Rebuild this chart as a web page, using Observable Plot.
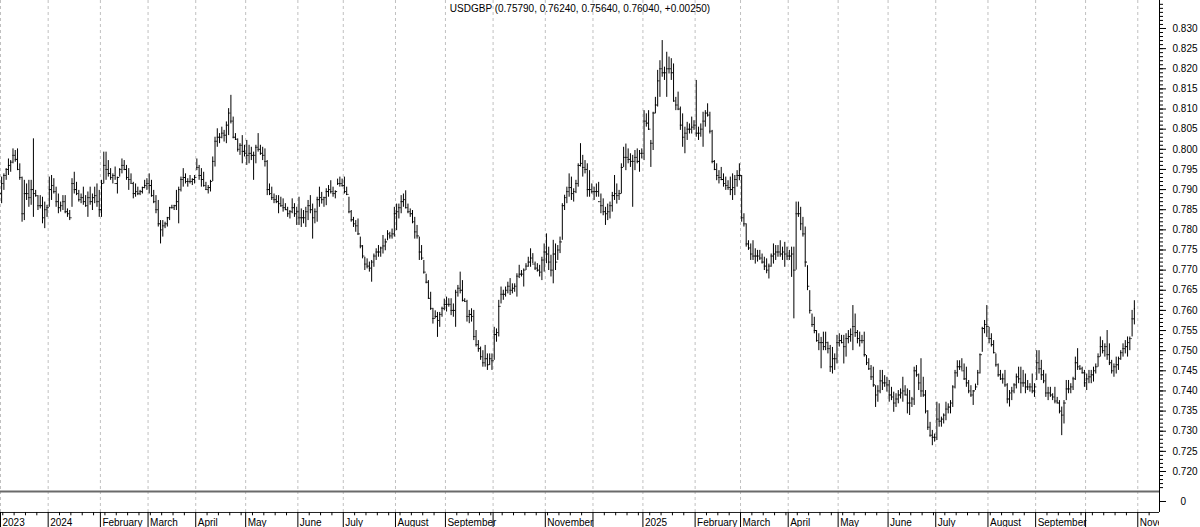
<!DOCTYPE html>
<html><head><meta charset="utf-8">
<script src="https://cdn.jsdelivr.net/npm/d3@7"></script>
<script src="https://cdn.jsdelivr.net/npm/@observablehq/plot@0.6"></script>
<style>
html,body{margin:0;padding:0;background:#fff;}
#chart{width:1200px;height:527px;overflow:hidden;}
#chart svg{display:block;}
</style></head><body><div id="chart"></div>
<script>
// ---- data (daily bars, weekdays from 2023-12-01) ----
const symbol = "USDGBP";
const lastQuote = ["0.75790", "0.76240", "0.75640", "0.76040", "+0.00250"];
const firstDay = [2023, 11, 1];
const firstOpen = 0.7890;

const high = [
// Dec 2023
0.7931,0.7939,0.7952,0.7976,0.7972,0.8001,0.7997,0.8001,0.7964,0.7931,0.7923,0.7914,0.7923,0.7923,0.8026,0.7898,0.7885,0.7885,0.7881,0.7869,0.7861,
// Jan 2024
0.7931,0.7935,0.7927,0.7906,0.7889,0.7869,0.7885,0.7885,0.7852,0.7848,0.7927,0.7943,0.7918,0.7898,0.7889,0.7906,0.7885,0.7894,0.7906,0.7889,0.7906,0.7914,0.7898,
// Feb
0.7923,0.7993,0.7993,0.7972,0.7952,0.7939,0.7956,0.7931,0.7952,0.7976,0.7972,0.7960,0.7952,0.7939,0.7918,0.7914,0.7906,0.7898,0.7906,0.7923,0.7927,
// Mar
0.7939,0.7923,0.7898,0.7885,0.7873,0.7823,0.7823,0.7819,0.7831,0.7856,0.7861,0.7861,0.7898,0.7906,0.7931,0.7952,0.7939,0.7927,0.7935,0.7927,0.7935,
// Apr
0.7976,0.7960,0.7952,0.7943,0.7918,0.7910,0.7923,0.7981,0.8030,0.8051,0.8039,0.8055,0.8047,0.8068,0.8101,0.8134,0.8080,0.8039,0.8026,0.8014,0.8034,0.8010,
// May
0.8022,0.8010,0.8005,0.7993,0.8010,0.8039,0.8010,0.8005,0.8001,0.7972,0.7914,0.7906,0.7889,0.7885,0.7885,0.7881,0.7877,0.7865,0.7856,0.7848,0.7877,0.7865,0.7856,
// Jun
0.7881,0.7852,0.7848,0.7856,0.7873,0.7885,0.7864,0.7852,0.7881,0.7906,0.7893,0.7881,0.7902,0.7910,0.7922,0.7906,0.7897,0.7926,0.7931,0.7926,
// Jul
0.7931,0.7906,0.7881,0.7848,0.7831,0.7823,0.7827,0.7782,0.7761,0.7732,0.7728,0.7720,0.7724,0.7740,0.7753,0.7761,0.7757,0.7786,0.7777,0.7798,0.7794,0.7802,0.7856,
// Aug
0.7864,0.7864,0.7885,0.7889,0.7897,0.7864,0.7852,0.7848,0.7831,0.7811,0.7782,0.7761,0.7724,0.7690,0.7674,0.7645,0.7605,0.7599,0.7595,0.7595,0.7608,0.7628,
// Sep
0.7633,0.7629,0.7629,0.7616,0.7650,0.7662,0.7695,0.7674,0.7629,0.7625,0.7600,0.7604,0.7600,0.7550,0.7525,0.7509,0.7500,0.7513,0.7492,0.7492,0.7492,
// Oct
0.7558,0.7554,0.7625,0.7658,0.7650,0.7658,0.7670,0.7679,0.7666,0.7666,0.7691,0.7712,0.7699,0.7703,0.7716,0.7732,0.7753,0.7741,0.7720,0.7716,0.7712,0.7732,0.7765,
// Nov
0.7790,0.7757,0.7737,0.7774,0.7765,0.7761,0.7782,0.7865,0.7886,0.7906,0.7939,0.7931,0.7902,0.7923,0.7964,0.8014,0.7985,0.7972,0.7964,0.7947,0.7914,
// Dec
0.7906,0.7914,0.7918,0.7889,0.7877,0.7856,0.7864,0.7869,0.7893,0.7935,0.7914,0.7898,0.7964,0.8005,0.8013,0.8001,0.7989,0.7985,0.7997,0.8001,0.7997,0.8001,
// Jan 2025
0.8096,0.8088,0.8096,0.8022,0.8092,0.8129,0.8196,0.8220,0.8270,0.8204,0.8241,0.8229,0.8225,0.8212,0.8129,0.8142,0.8105,0.8088,0.8055,0.8067,0.8063,0.8080,0.8071,
// Feb
0.8171,0.8055,0.8063,0.8092,0.8096,0.8113,0.8092,0.8047,0.7972,0.7964,0.7947,0.7955,0.7939,0.7931,0.7922,0.7931,0.7939,0.7935,0.7947,0.7964,
// Mar
0.7935,0.7840,0.7815,0.7773,0.7765,0.7773,0.7753,0.7749,0.7749,0.7740,0.7732,0.7728,0.7715,0.7740,0.7765,0.7761,0.7761,0.7773,0.7757,0.7769,0.7757,
// Apr
0.7749,0.7757,0.7757,0.7869,0.7869,0.7856,0.7831,0.7807,0.7711,0.7649,0.7591,0.7583,0.7550,0.7542,0.7533,0.7546,0.7546,0.7521,0.7513,0.7508,0.7492,0.7538,
// May
0.7542,0.7538,0.7538,0.7542,0.7550,0.7554,0.7612,0.7591,0.7550,0.7546,0.7538,0.7546,0.7488,0.7480,0.7463,0.7459,0.7413,0.7413,0.7451,0.7451,0.7438,0.7434,
// Jun
0.7426,0.7409,0.7397,0.7393,0.7401,0.7405,0.7434,0.7413,0.7405,0.7401,0.7384,0.7459,0.7463,0.7442,0.7480,0.7434,0.7401,0.7351,0.7322,0.7302,0.7293,
// Jul
0.7372,0.7368,0.7335,0.7343,0.7372,0.7368,0.7376,0.7413,0.7451,0.7475,0.7475,0.7480,0.7467,0.7459,0.7426,0.7413,0.7401,0.7417,0.7451,0.7492,0.7558,0.7575,0.7612,
// Aug
0.7558,0.7542,0.7525,0.7492,0.7467,0.7451,0.7442,0.7451,0.7418,0.7401,0.7409,0.7418,0.7442,0.7459,0.7459,0.7451,0.7442,0.7426,0.7418,0.7442,0.7418,
// Sep
0.7500,0.7500,0.7476,0.7451,0.7442,0.7409,0.7409,0.7393,0.7409,0.7384,0.7376,0.7360,0.7376,0.7426,0.7426,0.7418,0.7434,0.7484,0.7505,0.7463,0.7459,0.7451,
// Oct
0.7442,0.7451,0.7451,0.7459,0.7467,0.7492,0.7534,0.7525,0.7517,0.7550,0.7517,0.7476,0.7467,0.7484,0.7484,0.7500,0.7517,0.7525,0.7534,0.7534,0.7600,0.7624
];

const low = [
0.7865,0.7898,0.7923,0.7935,0.7943,0.7964,0.7968,0.7947,0.7923,0.7819,0.7823,0.7873,0.7856,0.7861,0.7831,0.7881,0.7848,0.7852,0.7815,0.7803,0.7831,
0.7856,0.7873,0.7889,0.7856,0.7840,0.7844,0.7848,0.7840,0.7831,0.7823,0.7856,0.7889,0.7885,0.7869,0.7865,0.7861,0.7856,0.7831,0.7861,0.7848,0.7865,0.7856,0.7831,
0.7831,0.7914,0.7923,0.7931,0.7923,0.7914,0.7923,0.7889,0.7931,0.7939,0.7947,0.7923,0.7898,0.7914,0.7877,0.7881,0.7885,0.7885,0.7889,0.7902,0.7898,
0.7889,0.7881,0.7865,0.7840,0.7807,0.7765,0.7782,0.7803,0.7807,0.7823,0.7852,0.7848,0.7848,0.7815,0.7894,0.7906,0.7914,0.7906,0.7914,0.7910,0.7914,
0.7947,0.7923,0.7906,0.7906,0.7898,0.7889,0.7894,0.7920,0.7956,0.8005,0.8014,0.8026,0.8018,0.8014,0.8034,0.8063,0.8026,0.8022,0.7993,0.7985,0.7964,0.7981,
0.7960,0.7964,0.7972,0.7923,0.7964,0.7993,0.7985,0.7972,0.7956,0.7885,0.7885,0.7873,0.7865,0.7865,0.7840,0.7856,0.7844,0.7848,0.7831,0.7827,0.7840,0.7831,0.7811,
0.7811,0.7806,0.7815,0.7806,0.7823,0.7840,0.7777,0.7815,0.7819,0.7856,0.7864,0.7856,0.7860,0.7881,0.7889,0.7881,0.7877,0.7910,0.7906,0.7906,
0.7889,0.7885,0.7840,0.7819,0.7806,0.7794,0.7786,0.7753,0.7728,0.7699,0.7703,0.7695,0.7670,0.7707,0.7724,0.7732,0.7732,0.7740,0.7748,0.7773,0.7777,0.7777,0.7782,
0.7798,0.7827,0.7840,0.7856,0.7852,0.7840,0.7831,0.7815,0.7777,0.7777,0.7724,0.7724,0.7690,0.7666,0.7628,0.7600,0.7566,0.7579,0.7533,0.7558,0.7583,0.7599,
0.7596,0.7608,0.7587,0.7583,0.7558,0.7633,0.7641,0.7621,0.7621,0.7571,0.7567,0.7571,0.7525,0.7509,0.7496,0.7476,0.7459,0.7459,0.7451,0.7463,0.7451,
0.7476,0.7521,0.7534,0.7616,0.7625,0.7633,0.7641,0.7637,0.7641,0.7645,0.7633,0.7679,0.7683,0.7658,0.7699,0.7707,0.7707,0.7716,0.7699,0.7695,0.7683,0.7674,0.7695,
0.7716,0.7699,0.7683,0.7666,0.7699,0.7724,0.7741,0.7774,0.7848,0.7865,0.7881,0.7873,0.7869,0.7890,0.7906,0.7956,0.7931,0.7939,0.7881,0.7881,0.7889,
0.7873,0.7881,0.7881,0.7840,0.7835,0.7811,0.7823,0.7827,0.7844,0.7873,0.7864,0.7873,0.7889,0.7955,0.7947,0.7964,0.7955,0.7856,0.7947,0.7964,0.7943,0.7976,
0.7972,0.8055,0.8047,0.7955,0.7997,0.8088,0.8105,0.8129,0.8179,0.8171,0.8129,0.8187,0.8171,0.8117,0.8096,0.8096,0.8047,0.8005,0.7989,0.8022,0.8038,0.8038,0.8047,
0.8030,0.8022,0.8030,0.8005,0.8055,0.8080,0.8038,0.7964,0.7947,0.7922,0.7914,0.7922,0.7906,0.7898,0.7898,0.7885,0.7873,0.7885,0.7906,0.7922,
0.7819,0.7807,0.7757,0.7749,0.7724,0.7724,0.7715,0.7720,0.7724,0.7715,0.7699,0.7691,0.7678,0.7707,0.7715,0.7724,0.7732,0.7732,0.7724,0.7707,0.7724,
0.7724,0.7682,0.7579,0.7700,0.7831,0.7798,0.7782,0.7707,0.7649,0.7591,0.7558,0.7542,0.7521,0.7500,0.7455,0.7500,0.7500,0.7492,0.7446,0.7442,0.7451,0.7467,
0.7509,0.7517,0.7467,0.7484,0.7517,0.7521,0.7500,0.7533,0.7517,0.7509,0.7517,0.7484,0.7463,0.7451,0.7426,0.7409,0.7359,0.7372,0.7393,0.7401,0.7409,0.7397,
0.7372,0.7376,0.7347,0.7359,0.7368,0.7380,0.7372,0.7388,0.7343,0.7339,0.7359,0.7364,0.7434,0.7401,0.7384,0.7384,0.7343,0.7302,0.7285,0.7264,0.7273,
0.7277,0.7310,0.7310,0.7318,0.7326,0.7343,0.7343,0.7359,0.7405,0.7434,0.7451,0.7451,0.7426,0.7409,0.7393,0.7384,0.7364,0.7401,0.7413,0.7442,0.7496,0.7542,0.7533,
0.7517,0.7509,0.7492,0.7459,0.7434,0.7426,0.7417,0.7409,0.7368,0.7360,0.7376,0.7393,0.7405,0.7418,0.7393,0.7409,0.7393,0.7401,0.7397,0.7393,0.7384,
0.7426,0.7442,0.7426,0.7418,0.7384,0.7376,0.7384,0.7376,0.7368,0.7368,0.7343,0.7289,0.7318,0.7376,0.7393,0.7393,0.7401,0.7426,0.7451,0.7451,0.7442,0.7409,
0.7401,0.7418,0.7418,0.7422,0.7442,0.7459,0.7484,0.7492,0.7484,0.7476,0.7463,0.7442,0.7434,0.7442,0.7451,0.7476,0.7484,0.7492,0.7484,0.7500,0.7534,0.7564
];

const close = [
0.7915,0.7935,0.7950,0.7960,0.7968,0.7985,0.7975,0.7950,0.7930,0.7840,0.7890,0.7890,0.7880,0.7900,0.7890,0.7885,0.7860,0.7860,0.7830,0.7850,0.7855,
0.7900,0.7910,0.7895,0.7870,0.7855,0.7860,0.7870,0.7845,0.7840,0.7830,0.7915,0.7900,0.7890,0.7875,0.7880,0.7870,0.7860,0.7880,0.7870,0.7880,0.7885,0.7870,0.7850,
0.7915,0.7960,0.7950,0.7940,0.7930,0.7935,0.7915,0.7930,0.7950,0.7960,0.7950,0.7930,0.7925,0.7915,0.7890,0.7895,0.7890,0.7895,0.7905,0.7910,0.7915,
0.7910,0.7885,0.7870,0.7850,0.7815,0.7800,0.7810,0.7815,0.7830,0.7855,0.7855,0.7860,0.7870,0.7900,0.7925,0.7930,0.7920,0.7920,0.7920,0.7925,0.7930,
0.7955,0.7935,0.7925,0.7910,0.7900,0.7905,0.7920,0.7970,0.8020,0.8030,0.8030,0.8040,0.8035,0.8060,0.8090,0.8070,0.8030,0.8025,0.8000,0.8010,0.7995,0.7990,
0.7985,0.7990,0.7985,0.7985,0.8005,0.8000,0.7990,0.7985,0.7970,0.7900,0.7890,0.7880,0.7875,0.7870,0.7865,0.7860,0.7855,0.7850,0.7840,0.7845,0.7855,0.7840,0.7845,
0.7830,0.7830,0.7830,0.7845,0.7860,0.7850,0.7830,0.7845,0.7875,0.7880,0.7875,0.7880,0.7895,0.7900,0.7895,0.7890,0.7895,0.7915,0.7915,0.7910,
0.7895,0.7888,0.7845,0.7825,0.7815,0.7810,0.7790,0.7760,0.7735,0.7715,0.7710,0.7705,0.7720,0.7735,0.7745,0.7745,0.7755,0.7760,0.7770,0.7790,0.7785,0.7790,0.7840,
0.7845,0.7855,0.7870,0.7875,0.7855,0.7845,0.7840,0.7820,0.7795,0.7785,0.7745,0.7730,0.7695,0.7670,0.7630,0.7605,0.7580,0.7585,0.7575,0.7590,0.7605,0.7615,
0.7615,0.7615,0.7600,0.7600,0.7645,0.7655,0.7650,0.7625,0.7622,0.7585,0.7590,0.7585,0.7535,0.7515,0.7505,0.7485,0.7470,0.7480,0.7465,0.7480,0.7475,
0.7540,0.7545,0.7610,0.7640,0.7640,0.7650,0.7660,0.7650,0.7655,0.7660,0.7685,0.7690,0.7690,0.7700,0.7710,0.7720,0.7730,0.7715,0.7705,0.7700,0.7695,0.7725,0.7745,
0.7740,0.7720,0.7700,0.7740,0.7720,0.7750,0.7770,0.7860,0.7880,0.7895,0.7905,0.7890,0.7895,0.7915,0.7960,0.7965,0.7955,0.7950,0.7900,0.7900,0.7895,
0.7895,0.7895,0.7870,0.7860,0.7845,0.7840,0.7845,0.7860,0.7885,0.7890,0.7885,0.7890,0.7955,0.7980,0.7980,0.7975,0.7970,0.7970,0.7980,0.7970,0.7990,0.7990,
0.8070,0.8065,0.8050,0.8015,0.8090,0.8110,0.8170,0.8200,0.8190,0.8190,0.8200,0.8200,0.8190,0.8120,0.8110,0.8100,0.8060,0.8030,0.8040,0.8050,0.8050,0.8055,0.8060,
0.8040,0.8040,0.8050,0.8070,0.8090,0.8085,0.8045,0.7970,0.7950,0.7935,0.7930,0.7925,0.7915,0.7910,0.7905,0.7900,0.7905,0.7925,0.7935,0.7935,
0.7830,0.7815,0.7765,0.7755,0.7740,0.7735,0.7735,0.7735,0.7730,0.7720,0.7710,0.7700,0.7710,0.7735,0.7740,0.7745,0.7745,0.7740,0.7745,0.7740,0.7735,
0.7735,0.7740,0.7700,0.7840,0.7840,0.7815,0.7790,0.7720,0.7660,0.7600,0.7565,0.7550,0.7525,0.7520,0.7520,0.7510,0.7520,0.7505,0.7460,0.7480,0.7480,0.7520,
0.7525,0.7520,0.7510,0.7530,0.7535,0.7540,0.7560,0.7545,0.7530,0.7525,0.7525,0.7490,0.7470,0.7455,0.7435,0.7415,0.7390,0.7400,0.7425,0.7420,0.7420,0.7415,
0.7390,0.7385,0.7370,0.7380,0.7390,0.7395,0.7400,0.7390,0.7370,0.7370,0.7380,0.7450,0.7440,0.7420,0.7400,0.7390,0.7350,0.7310,0.7290,0.7285,0.7285,
0.7330,0.7325,0.7330,0.7340,0.7355,0.7360,0.7370,0.7410,0.7445,0.7460,0.7460,0.7450,0.7430,0.7420,0.7400,0.7390,0.7400,0.7410,0.7445,0.7490,0.7555,0.7565,0.7560,
0.7530,0.7515,0.7495,0.7465,0.7440,0.7430,0.7430,0.7415,0.7380,0.7395,0.7400,0.7415,0.7435,0.7430,0.7420,0.7420,0.7410,0.7410,0.7410,0.7400,0.7410,
0.7470,0.7455,0.7440,0.7425,0.7395,0.7395,0.7390,0.7385,0.7375,0.7370,0.7350,0.7340,0.7370,0.7405,0.7405,0.7410,0.7430,0.7470,0.7460,0.7455,0.7445,0.7420,
0.7430,0.7435,0.7440,0.7450,0.7460,0.7485,0.7510,0.7500,0.7510,0.7490,0.7470,0.7450,0.7460,0.7465,0.7480,0.7495,0.7505,0.7510,0.7520,0.7530,0.7579,0.7604
];

// axis labels
const priceTicks = [0.720,0.725,0.730,0.735,0.740,0.745,0.750,0.755,0.760,0.765,0.770,0.775,0.780,0.785,0.790,0.795,0.800,0.805,0.810,0.815,0.820,0.825,0.830];
const minorTicks = [0.716,0.717,0.718,0.719,0.720,0.721,0.722,0.723,0.724,0.725,0.726,0.727,0.728,0.729,0.730,0.731,0.732,0.733,0.734,0.735,0.736,0.737,0.738,0.739,0.740,0.741,0.742,0.743,0.744,0.745,0.746,0.747,0.748,0.749,0.750,0.751,0.752,0.753,0.754,0.755,0.756,0.757,0.758,0.759,0.760,0.761,0.762,0.763,0.764,0.765,0.766,0.767,0.768,0.769,0.770,0.771,0.772,0.773,0.774,0.775,0.776,0.777,0.778,0.779,0.780,0.781,0.782,0.783,0.784,0.785,0.786,0.787,0.788,0.789,0.790,0.791,0.792,0.793,0.794,0.795,0.796,0.797,0.798,0.799,0.800,0.801,0.802,0.803,0.804,0.805,0.806,0.807,0.808,0.809,0.810,0.811,0.812,0.813,0.814,0.815,0.816,0.817,0.818,0.819,0.820,0.821,0.822,0.823,0.824,0.825,0.826,0.827,0.828,0.829,0.830,0.831,0.832,0.833,0.834,0.835,0.836];
const monthLabels = ["2023","2024","February","March","April","May","June","July","August","September","","November","","2025","February","March","April","May","June","July","August","September","","November"];
const volumeTicks = [0];

// ---- build ----
const AXIS_SLOTS = 511;  // weekday slots on the x axis (data + empty right part)
const days = [];
{
  const d = new Date(Date.UTC(firstDay[0], firstDay[1], firstDay[2]));
  while (days.length < AXIS_SLOTS) {
    const wd = d.getUTCDay();
    if (wd !== 0 && wd !== 6) days.push(new Date(d));
    d.setUTCDate(d.getUTCDate() + 1);
  }
}
const monthStarts = days.map((d, i) => i).filter(i => i === 0 || days[i].getUTCMonth() !== days[i - 1].getUTCMonth());
const monthMarks = monthStarts.map((i, k) => ({pos: i - 0.5, label: monthLabels[k] || ""}));
const gridPos = monthStarts.map(i => i - 0.5);
const weekPos = days.map((d, i) => i).filter(i => days[i].getUTCDay() === 1 && !monthStarts.includes(i)).map(i => i - 0.5);

const bars = high.map((h, i) => ({i, high: h, low: low[i], close: close[i], open: i ? close[i - 1] : firstOpen}));
const title = `${symbol} (${lastQuote.join(", ")})`;

const xDomain = [-0.5, 510.07];
const font = {fontFamily: '"Liberation Sans", Arial, sans-serif', fontSize: "10px", color: "#000", background: "#fff", overflow: "visible"};

const main = Plot.plot({
  width: 1200, height: 490,
  marginLeft: 0, marginRight: 41, marginTop: 0, marginBottom: 0,
  style: font,
  x: {domain: xDomain, axis: null},
  y: {domain: [0.71528, 0.83695]},
  marks: [
    Plot.ruleX(gridPos, {stroke: "#c0c0c0", strokeDasharray: "3,3"}),
    Plot.ruleX(bars, {x: "i", y1: "low", y2: "high", stroke: "#000", strokeWidth: 1}),
    Plot.ruleY(bars, {y: "open", x1: d => d.i - 0.45, x2: "i", stroke: "#000"}),
    Plot.ruleY(bars, {y: "close", x1: "i", x2: d => d.i + 0.45, stroke: "#000"}),
    Plot.ruleX([xDomain[1]], {stroke: "#000"}),
    Plot.axisY(minorTicks, {anchor: "right", tickSize: 3, tickFormat: () => "", stroke: "#000"}),
    Plot.axisY(priceTicks, {anchor: "right", tickSize: 6, tickPadding: 7, tickFormat: d3.format(".3f"), stroke: "#000", fill: "#000"}),
    Plot.text([title], {text: d => d, frameAnchor: "top", dy: 8, lineAnchor: "middle", fill: "#000", fontSize: 10})
  ]
});

const foot = Plot.plot({
  width: 1200, height: 37,
  marginLeft: 0, marginRight: 41, marginTop: 0, marginBottom: 0,
  style: font,
  x: {domain: xDomain, axis: null},
  y: {domain: [-2.364, 1], range: [37, 0]},
  marks: [
    Plot.ruleX(gridPos, {y1: -1, y2: 1, stroke: "#c0c0c0", strokeDasharray: "3,3"}),
    Plot.ruleY([1], {dy: 1, stroke: "#6a6a6a", strokeWidth: 2}),
    Plot.ruleY([-1], {stroke: "#222"}),
    Plot.ruleX([xDomain[1]], {y1: -1, y2: 1, stroke: "#000"}),
    Plot.axisY(volumeTicks, {anchor: "right", tickSize: 6, tickPadding: 15, tickFormat: d => String(d), stroke: "#000", fill: "#000"}),
    Plot.ruleX(weekPos, {y1: -1, y2: -1.3, stroke: "#000"}),
    Plot.ruleX(gridPos, {y1: -1, y2: -2.364, stroke: "#000"}),
    Plot.text(monthMarks, {x: "pos", y: -1, dy: 10, dx: 2, text: "label", textAnchor: "start", lineAnchor: "middle", fill: "#000", fontSize: 10, clip: true})
  ]
});

const root = document.getElementById("chart");
root.append(main, foot);
</script>
</body></html>
